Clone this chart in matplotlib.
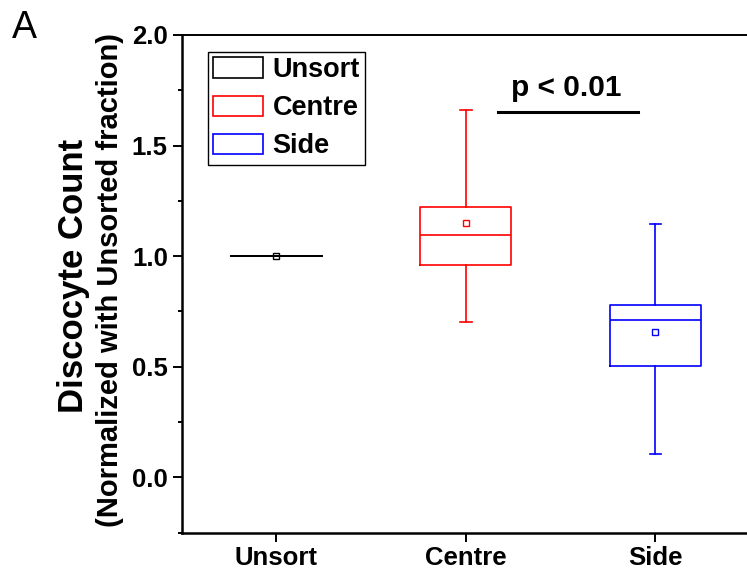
import matplotlib
matplotlib.use("Agg")
import matplotlib.pyplot as plt
from matplotlib.patches import Patch

plt.rcParams['font.family'] = ['Liberation Sans', 'DejaVu Sans']
plt.rcParams['font.weight'] = 'bold'

# values
groups = ['Unsort', 'Centre', 'Side']
colors = ['black', 'red', 'blue']
q1 = [1.0, 0.962, 0.502]
med = [1.0, 1.097, 0.713]
q3 = [1.0, 1.223, 0.779]
whis_lo = [1.0, 0.704, 0.107]
whis_hi = [1.0, 1.659, 1.147]
means = [1.0, 1.150, 0.657]

p_text = 'p < 0.01'
p_line_x = [2.17, 2.91]
p_line_y = 1.653

stats = []
for i in range(len(groups)):
    stats.append({'label': groups[i], 'q1': q1[i], 'med': med[i], 'q3': q3[i],
                  'whislo': whis_lo[i], 'whishi': whis_hi[i], 'mean': means[i]})

fig = plt.figure(figsize=(7.47, 5.77), dpi=100)
ax = fig.add_axes([0.2432, 0.0768, 0.7608, 0.8626])

pos = [1, 2, 3]
res = ax.bxp(stats, positions=pos, widths=0.48, showmeans=True, showfliers=False,
             capwidths=0.06,
             boxprops=dict(linewidth=1.2),
             whiskerprops=dict(linewidth=1.2),
             capprops=dict(linewidth=1.2),
             medianprops=dict(linewidth=1.2),
             meanprops=dict(marker='s', markersize=4.2, markerfacecolor='none',
                            markeredgewidth=1.0))
for i, c in enumerate(colors):
    res['boxes'][i].set_color(c)
    res['medians'][i].set_color(c)
    res['means'][i].set_markeredgecolor(c)
    for k in (2 * i, 2 * i + 1):
        res['whiskers'][k].set_color(c)
        res['caps'][k].set_color(c)

ax.set_xlim(0.5, 3.5)
ax.set_ylim(-0.25, 2.0)
ax.set_yticks([0.0, 0.5, 1.0, 1.5, 2.0])
ax.set_yticks([-0.25, 0.25, 0.75, 1.25, 1.75], minor=True)
ax.set_yticklabels(['0.0', '0.5', '1.0', '1.5', '2.0'])
ax.set_xticks(pos)
ax.set_xticklabels(groups)
ax.tick_params(axis='y', which='major', length=6.5, width=1.4, labelsize=18.5, pad=3.5)
ax.tick_params(axis='y', which='minor', length=3, width=1.4)
ax.tick_params(axis='x', which='major', length=6.5, width=1.4, labelsize=18.5, pad=3.3)
for s in ['left', 'bottom']:
    ax.spines[s].set_linewidth(1.8)
ax.spines['top'].set_linewidth(1.4)
ax.spines['right'].set_visible(False)

ax.plot(p_line_x, [p_line_y, p_line_y], color='black', linewidth=2.2)
ax.text(2.53, 1.722, p_text, ha='center', va='baseline', fontsize=21.5, fontweight='bold')

handles = [Patch(facecolor='white', edgecolor=c, linewidth=1.2) for c in colors]
leg = ax.legend(handles, groups, loc='upper left', bbox_to_anchor=(0.0458, 0.9664),
                borderaxespad=0, fontsize=19.5, fancybox=False, framealpha=1,
                edgecolor='black', borderpad=0.2, labelspacing=0.45,
                handlelength=1.85, handleheight=0.8, handletextpad=0.35)
leg.get_frame().set_linewidth(1.0)

fig.text(74 / 747, 0.5225, 'Discocyte Count', rotation=90, ha='center', va='center',
         fontsize=25, fontweight='bold')
fig.text(110 / 747, 0.515, '(Normalized with Unsorted fraction)', rotation=90,
         ha='center', va='center', fontsize=21, fontweight='bold')
fig.text(12 / 747, (577 - 38) / 577, 'A', fontsize=27, fontweight='normal', va='baseline')

fig.savefig('out.png', dpi=100)
